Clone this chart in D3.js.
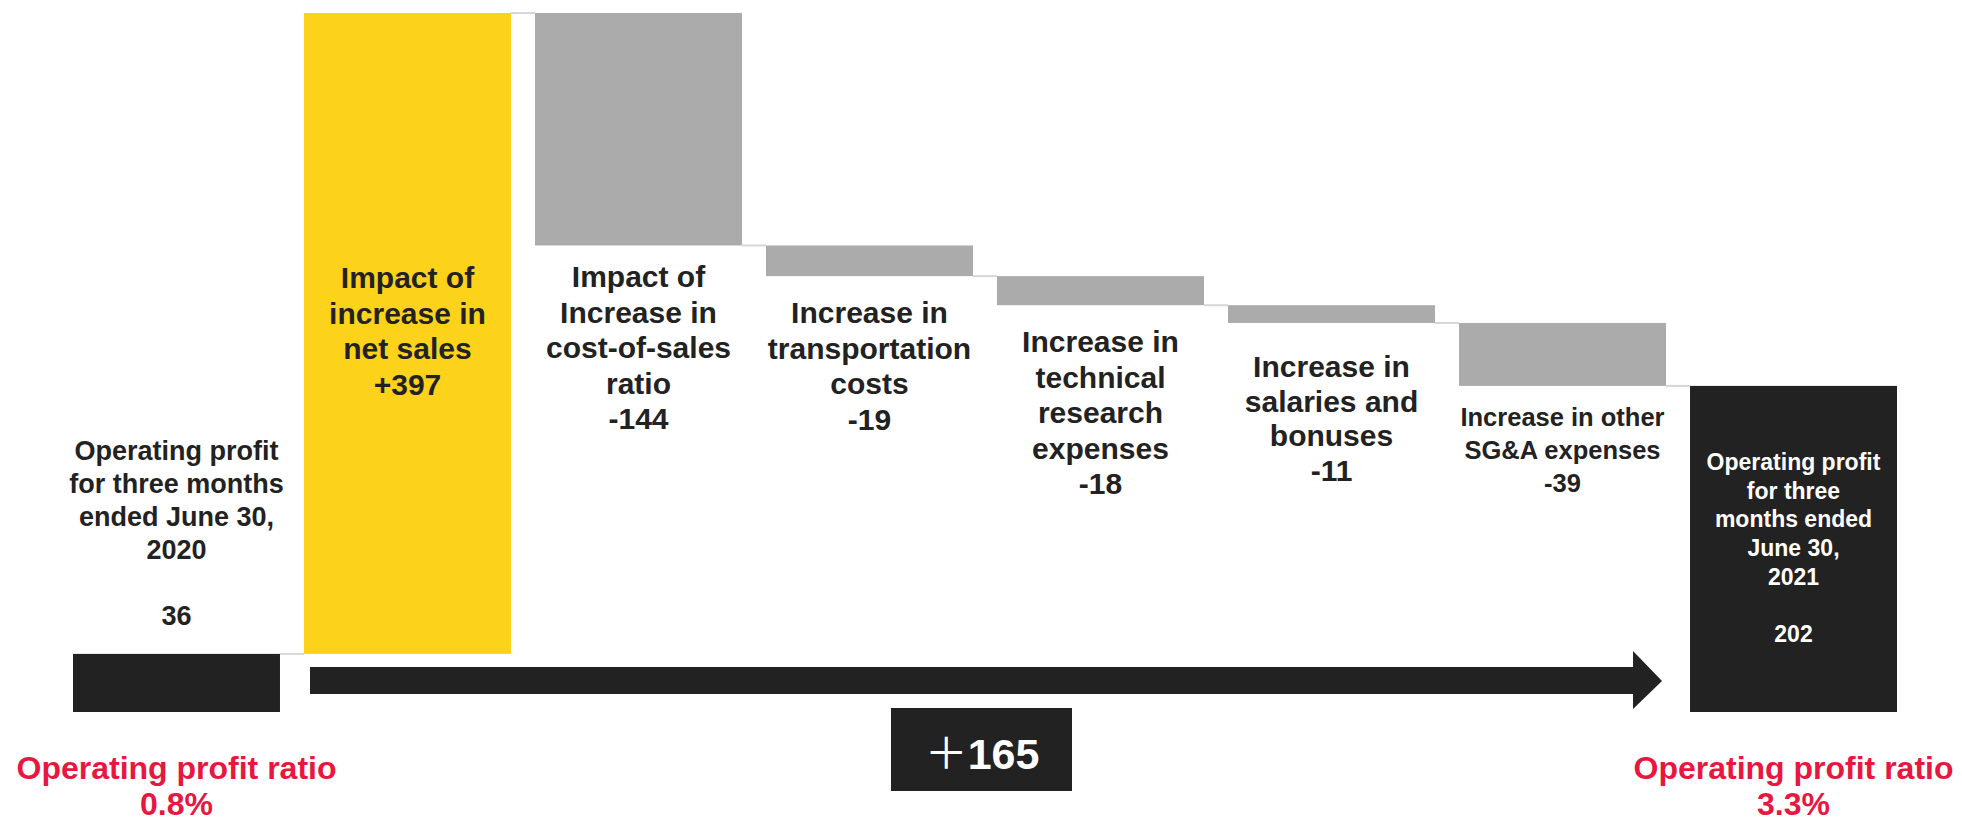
<!DOCTYPE html>
<html>
<head>
<meta charset="utf-8">
<script src="https://cdn.jsdelivr.net/npm/d3@7"></script>
<style>
  html, body { margin: 0; padding: 0; background: #fff; }
  svg { display: block; font-family: "Liberation Sans", Arial, sans-serif; font-weight: bold; }
</style>
</head>
<body>
<div class="graph"></div>
<script>
// chart data
var categories = ["start", "sales", "costRatio", "transport", "research", "salaries", "otherSGA", "end"];
var values = [36, 397, -144, -19, -18, -11, -39, 202];
var kinds = ["total", "up", "down", "down", "down", "down", "down", "total"];
var labels = [
  ["Operating profit", "for three months", "ended June 30,", "2020", "", "36"],
  ["Impact of", "increase in", "net sales", "+397"],
  ["Impact of", "Increase in", "cost-of-sales", "ratio", "-144"],
  ["Increase in", "transportation", "costs", "-19"],
  ["Increase in", "technical", "research", "expenses", "-18"],
  ["Increase in", "salaries and", "bonuses", "-11"],
  ["Increase in other", "SG&A expenses", "-39"],
  ["Operating profit", "for three", "months ended", "June 30,", "2021", "", "202"]
];
var ratioLabels = ["Operating profit ratio", "0.8%", "Operating profit ratio", "3.3%"];
var changeSign = "\uFF0B", changeValue = "165";

// layout for the text blocks (first baseline, font size, line step)
var labelY = [460, 288, 287, 323, 352, 377, 426, 470];
var labelSize = [27, 30, 30, 30, 30, 30, 25.5, 23];
var labelStep = [33, 35.5, 35.5, 35.5, 35.5, 34.5, 33, 28.7];

var colors = {total: "#222222", up: "#FDD21B", down: "#ABABAB"};

var width = 1962, height = 822;

var svg = d3.select("div.graph").append("svg")
    .attr("width", width)
    .attr("height", height);

// running totals -> bar start / end
var bars = [];
var running = 0;
values.forEach(function(v, i) {
  var b = {key: categories[i], kind: kinds[i], value: v};
  if (kinds[i] === "total") {
    b.y0 = 0; b.y1 = v; running = v;
  } else {
    b.y0 = running; b.y1 = running + v; running = b.y1;
  }
  bars.push(b);
});

var x = d3.scaleBand().domain(categories).range([73, 1897]).paddingInner(0.104).paddingOuter(0);
var y = d3.scaleLinear().domain([0, 433]).range([712, 13]);

// connectors
svg.selectAll("line.conn")
  .data(bars.slice(0, -1))
  .enter().append("line")
    .attr("class", "conn")
    .attr("x1", function(d) { return x(d.key) + x.bandwidth(); })
    .attr("x2", function(d, i) { return x(categories[i + 1]); })
    .attr("y1", function(d) { return y(d.y1); })
    .attr("y2", function(d) { return y(d.y1); })
    .attr("stroke", "#D6D6D6")
    .attr("stroke-width", 2);

// bars
svg.selectAll("rect.bar")
  .data(bars)
  .enter().append("rect")
    .attr("class", "bar")
    .attr("x", function(d) { return x(d.key); })
    .attr("width", x.bandwidth())
    .attr("y", function(d) { return y(Math.max(d.y0, d.y1)); })
    .attr("height", function(d) { return Math.abs(y(d.y0) - y(d.y1)); })
    .attr("fill", function(d) { return colors[d.kind]; });

// arrow across the middle
var ax0 = x("sales") + 6, ax1 = x("end") - 28;
var headBase = ax1 - 29;
svg.append("path")
  .attr("d", "M" + ax0 + ",667 L" + headBase + ",667 L" + headBase + ",651 L" + ax1 + ",681 L" +
             headBase + ",709 L" + headBase + ",694 L" + ax0 + ",694 Z")
  .attr("fill", "#222222");

// +165 box
svg.append("rect")
  .attr("x", 891).attr("y", 708).attr("width", 181).attr("height", 83)
  .attr("fill", "#222222");
var change = svg.append("text")
  .attr("x", 982).attr("y", 769)
  .attr("text-anchor", "middle")
  .attr("fill", "#fff")
  .attr("font-size", 43);
change.append("tspan")
  .attr("font-family", "'Noto Sans CJK JP', 'Noto Sans', sans-serif")
  .attr("font-weight", 400)
  .text(changeSign);
change.append("tspan")
  .text(changeValue);

// category labels
labels.forEach(function(lines, i) {
  var t = svg.append("text")
    .attr("text-anchor", "middle")
    .attr("font-size", labelSize[i])
    .attr("fill", i === 7 ? "#fff" : "#222");
  lines.forEach(function(line, j) {
    t.append("tspan")
      .attr("x", x(categories[i]) + x.bandwidth() / 2)
      .attr("y", labelY[i] + j * labelStep[i])
      .text(line);
  });
});

// operating profit ratio labels
[0, 7].forEach(function(idx, k) {
  var t = svg.append("text")
    .attr("text-anchor", "middle")
    .attr("font-size", 32)
    .attr("fill", "#E8173F");
  [0, 1].forEach(function(j) {
    t.append("tspan")
      .attr("x", x(categories[idx]) + x.bandwidth() / 2)
      .attr("y", 779 + j * 36)
      .text(ratioLabels[k * 2 + j]);
  });
});
</script>
</body>
</html>
